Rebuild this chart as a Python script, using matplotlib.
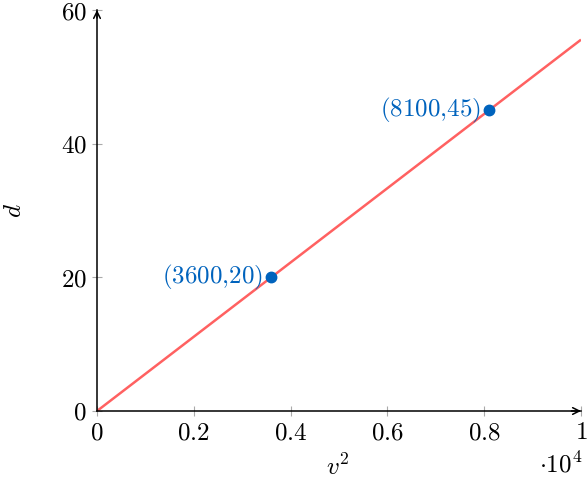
import matplotlib
matplotlib.use("Agg")
import matplotlib.pyplot as plt
from matplotlib.ticker import FixedLocator, FuncFormatter

plt.rcParams['mathtext.fontset'] = 'cm'
plt.rcParams['font.family'] = 'DejaVu Serif'

# data
line_x = [0, 10000]
line_y = [0, 55.56]
pts_x = [3600, 8100]
pts_y = [20, 45]
pt_labels = ["(3600{,}20)", "(8100{,}45)"]
xticks = [0, 2000, 4000, 6000, 8000, 10000]
yticks = [0, 20, 40, 60]

red = '#ff6161'
blue = '#0063bd'
FS = 18

fig = plt.figure(figsize=(5.87, 4.79), dpi=100)
ax = fig.add_axes([97/587, 68/479, 484/587, 401/479])
ax.set_xlim(0, 10000)
ax.set_ylim(0, 60)

ax.plot(line_x, line_y, color=red, lw=1.8, solid_capstyle='butt', zorder=2)
ax.plot(pts_x, pts_y, 'o', color=blue, ms=7.5, zorder=3)
for x, y, s in zip(pts_x, pts_y, pt_labels):
    ax.annotate(f"${s}$", (x, y), xytext=(-6, 0), textcoords='offset points',
                ha='right', va='center', color=blue, fontsize=FS)

for sp in ['top', 'right']:
    ax.spines[sp].set_visible(False)
for sp in ['left', 'bottom']:
    ax.spines[sp].set_linewidth(1.1)

ax.annotate('', xy=(1.0, 0), xytext=(0.98, 0), xycoords='axes fraction',
            arrowprops=dict(arrowstyle='->', lw=1.1, color='black',
                            mutation_scale=12, shrinkA=0, shrinkB=0))
ax.annotate('', xy=(0, 1.0), xytext=(0, 0.98), xycoords='axes fraction',
            arrowprops=dict(arrowstyle='->', lw=1.1, color='black',
                            mutation_scale=12, shrinkA=0, shrinkB=0))

ax.xaxis.set_major_locator(FixedLocator(xticks))
ax.yaxis.set_major_locator(FixedLocator(yticks))

def xfmt(v, pos):
    r = v / 10000
    if abs(r - round(r)) < 1e-9:
        return f"${int(round(r))}$"
    return f"${r:.1f}$"

ax.xaxis.set_major_formatter(FuncFormatter(xfmt))
ax.yaxis.set_major_formatter(FuncFormatter(lambda v, p: f"${int(v)}$"))
ax.tick_params(direction='inout', length=7, width=0.8, color='#aaaaaa',
               labelsize=FS, pad=4)

ax.text(0.498, -0.14, r"$v^2$", transform=ax.transAxes, ha='center',
        va='center', fontsize=FS)
ax.text(-0.17, 0.5, r"$d$", transform=ax.transAxes, ha='center',
        va='center', rotation=90, fontsize=FS)
ax.text(1.002, -0.133, r"$\cdot 10^4$", transform=ax.transAxes, ha='right',
        va='center', fontsize=FS)

fig.savefig("out.png", dpi=100)
